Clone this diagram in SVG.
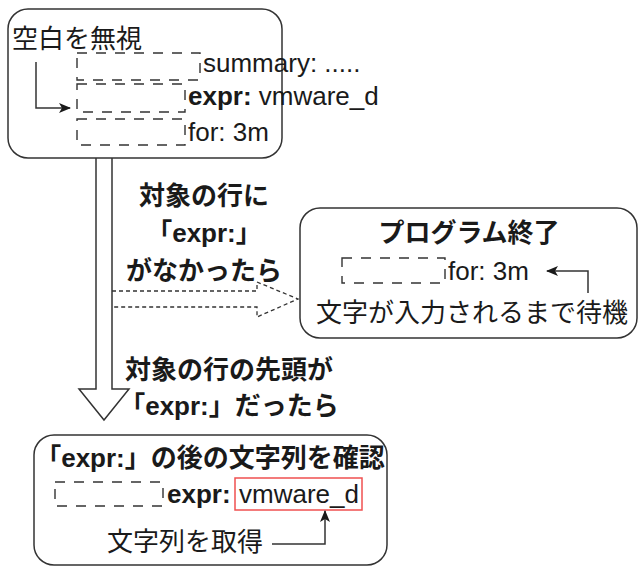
<svg xmlns="http://www.w3.org/2000/svg" width="639" height="566" viewBox="0 0 639 566">
<style>
.box{fill:#fff;stroke:#333;stroke-width:1.5}
.ws{fill:none;stroke:#333;stroke-width:1.4;stroke-dasharray:10 9}
.t{font-family:"Liberation Sans","Noto Sans CJK JP",sans-serif;fill:#1a1a1a}
.jp{font-size:26px}
.en{font-size:26px}
.b{font-weight:bold}
.line{fill:none;stroke:#333;stroke-width:1.5}
</style>
<defs>
<marker id="ah" viewBox="0 0 12 10" refX="11" refY="5" markerWidth="12" markerHeight="10" markerUnits="userSpaceOnUse" orient="auto">
<path d="M0,0 L12,5 L0,10 L3,5 z" fill="#1a1a1a"/>
</marker>
</defs>

<g id="connectors">
<path d="M96,158 V389 H79 L104,420 L129,389 H112 V158" fill="#fff" stroke="#333" stroke-width="1.5"/>
<path d="M112,291 H257 V282 L298,299 L257,317 V307 H112" fill="none" stroke="#333" stroke-width="1.3" stroke-dasharray="4 3"/>
<g id="label-no-expr" class="t b" text-anchor="middle">
<text x="204" y="205" class="jp">対象の行に</text>
<text x="204" y="242" class="jp">「<tspan class="en">expr:</tspan>」</text>
<text x="204" y="280" class="jp">がなかったら</text>
</g>
<g id="label-expr" class="t b" text-anchor="middle">
<text x="229" y="379" class="jp">対象の行の先頭が</text>
<text x="229" y="415" class="jp">「<tspan class="en">expr:</tspan>」だったら</text>
</g>
</g>

<g id="node-top">
<rect class="box" x="8" y="9" width="274" height="149" rx="20"/>
<text class="t jp" x="12" y="48">空白を無視</text>
<path class="line" d="M36,62 V108 H70" marker-end="url(#ah)"/>
<rect class="ws" x="77" y="53" width="123" height="27"/>
<rect class="ws" x="77" y="84" width="108" height="28"/>
<rect class="ws" x="77" y="119" width="108" height="26"/>
<text class="t en" x="203" y="72">summary: .....</text>
<text class="t en" x="188" y="105"><tspan class="b">expr:</tspan> vmware_d</text>
<text class="t en" x="188" y="141">for: 3m</text>
</g>

<g id="node-end">
<rect class="box" x="300" y="208" width="337" height="130" rx="20"/>
<text class="t jp b" x="469" y="242" text-anchor="middle">プログラム終了</text>
<rect class="ws" x="342" y="258" width="103" height="25"/>
<text class="t en" x="448" y="280">for: 3m</text>
<path class="line" d="M588,293 V271 H547" marker-end="url(#ah)"/>
<text class="t jp" x="472" y="322" text-anchor="middle">文字が入力されるまで待機</text>
</g>

<g id="node-check">
<rect class="box" x="34" y="435" width="353" height="130" rx="20"/>
<text class="t jp b" x="210" y="467" text-anchor="middle">「<tspan class="en">expr:</tspan>」の後の文字列を確認</text>
<rect class="ws" x="55" y="482" width="108" height="24"/>
<text class="t en b" x="167" y="503">expr:</text>
<rect x="235" y="478" width="127" height="32" fill="none" stroke="#f05050" stroke-width="1.5"/>
<text class="t en" x="239" y="503">vmware_d</text>
<text class="t jp" x="185" y="551" text-anchor="middle">文字列を取得</text>
<path class="line" d="M272,544 H325 V511" marker-end="url(#ah)"/>
</g>
</svg>
